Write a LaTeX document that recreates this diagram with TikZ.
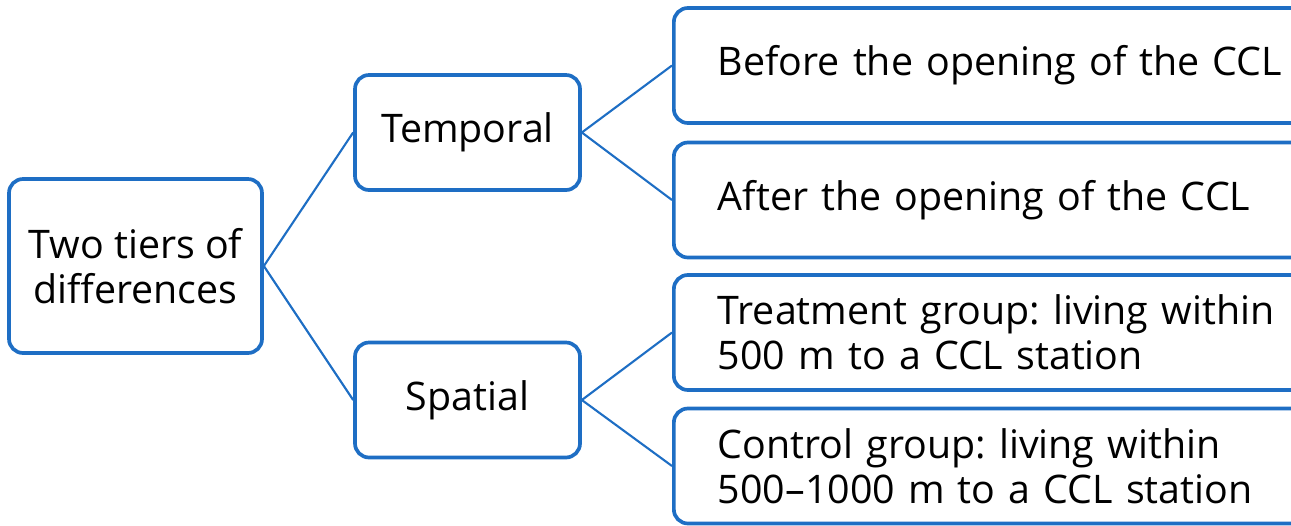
\documentclass[tikz,border=0pt]{standalone}
\usepackage{fontspec}
\setmainfont{Open Sans}
\frenchspacing
\definecolor{tierblue}{RGB}{30, 110, 196}
\usetikzlibrary{positioning}
\tikzset{
	tier/.style={rectangle, rounded corners=8pt, draw=tierblue, fill=white, line width=2.1pt, align=center, minimum height=2.3cm, font=\fontsize{22.4}{25.5}\selectfont},
	leaf/.style={rectangle, rounded corners=8pt, draw=tierblue, fill=white, line width=2.1pt, align=left, text width=11.4cm, inner xsep=0.88cm, minimum height=2.3cm, font=\fontsize{22.4}{25.5}\selectfont},
	link/.style={draw=tierblue, line width=1.2pt},
}

\begin{document}
\begin{tikzpicture}
		\useasboundingbox (0,0) rectangle (25.82,-10.5);
		\node[tier, minimum width=5.06cm, minimum height=3.48cm] (root) at (2.71,-5.32) {Two tiers of\\differences};
		\node[tier, minimum width=4.5cm] (temporal) at (9.35,-2.65) {Temporal};
		\node[tier, minimum width=4.5cm] (spatial) at (9.35,-8.0) {Spatial};
		\node[leaf, anchor=west] (before) at (13.44,-1.31) {Before the opening of the CCL};
		\node[leaf, anchor=west] (after) at (13.44,-4.0) {After the opening of the CCL};
		\node[leaf, anchor=west] (treat) at (13.44,-6.65) {Treatment group: living within\\500 m to a CCL station};
		\node[leaf, anchor=west] (control) at (13.44,-9.32) {Control group: living within\\500–1000 m to a CCL station};
		\draw[link] (root.east) -- (temporal.west);
		\draw[link] (root.east) -- (spatial.west);
		\draw[link] (temporal.east) -- (before.west);
		\draw[link] (temporal.east) -- (after.west);
		\draw[link] (spatial.east) -- (treat.west);
		\draw[link] (spatial.east) -- (control.west);
	\end{tikzpicture}
\end{document}
